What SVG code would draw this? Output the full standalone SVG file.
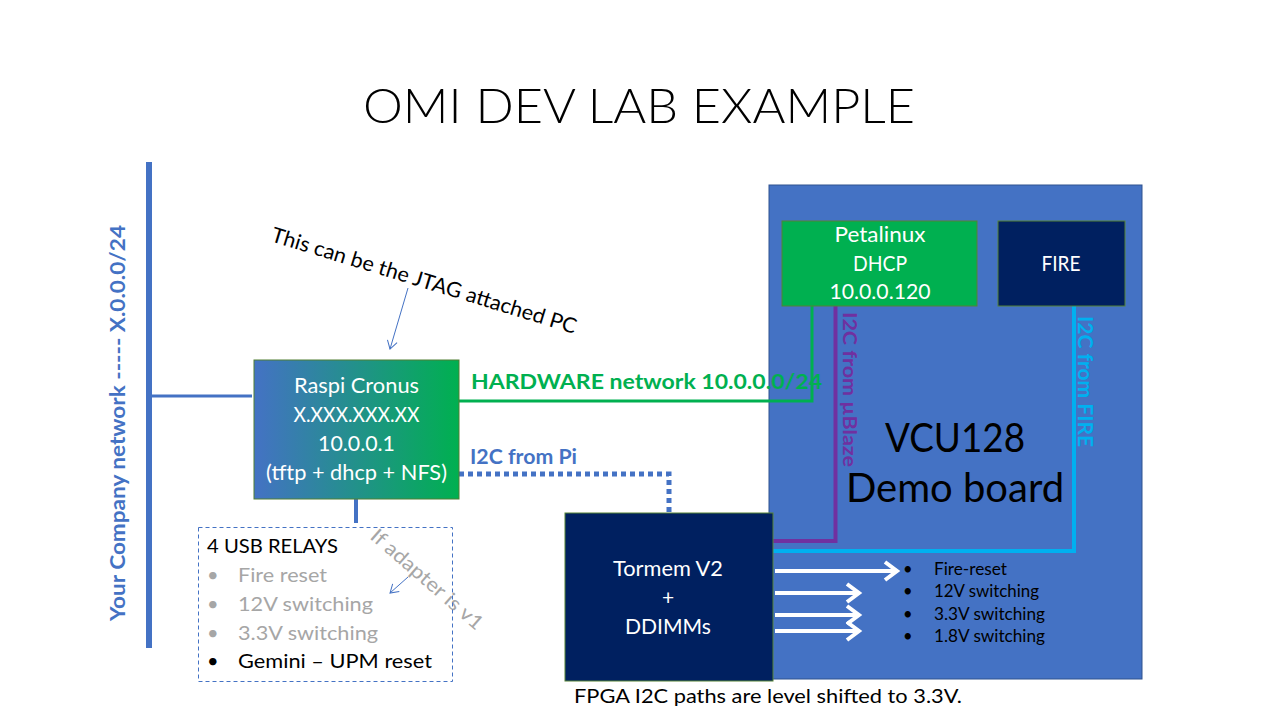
<svg xmlns="http://www.w3.org/2000/svg" width="1280" height="720" viewBox="0 0 1280 720">
<defs>
<linearGradient id="gr" x1="0" y1="0" x2="1" y2="0">
<stop offset="0" stop-color="#4472C4"/>
<stop offset="1" stop-color="#00B050"/>
</linearGradient>
<marker id="thin" markerWidth="12" markerHeight="12" refX="10" refY="6" orient="auto" markerUnits="userSpaceOnUse">
<path d="M2,1 L10,6 L2,11" fill="none" stroke="#4472C4" stroke-width="1"/>
</marker>
<marker id="wh" markerWidth="20" markerHeight="22" refX="16" refY="11" orient="auto" markerUnits="userSpaceOnUse">
<path d="M4,2 L16,11 L4,20" fill="none" stroke="#FFFFFF" stroke-width="4"/>
</marker>
</defs>
<style>
text{font-family:Lato,"Liberation Sans",sans-serif}
.w{fill:#FFFFFF;font-size:21px;text-anchor:middle}
.b{font-weight:bold}
.rel{font-size:20px}
.gray{fill:#A6A6A6}
.sm{font-size:16.5px;fill:#000000}
</style>
<rect width="1280" height="720" fill="#FFFFFF"/>
<text x="363" y="123" font-size="48" fill="#000000" style="font-weight:300" textLength="552" lengthAdjust="spacingAndGlyphs">OMI DEV LAB EXAMPLE</text>

<g id="vcu128">
<rect x="769" y="185" width="373" height="494" fill="#4472C4" stroke="#2F528F" stroke-width="1"/>
<text x="955" y="452" font-size="40" text-anchor="middle" fill="#000000" textLength="140" lengthAdjust="spacingAndGlyphs">VCU128</text>
<text x="955" y="502" font-size="40" text-anchor="middle" fill="#000000">Demo board</text>
</g>

<g id="company-network">
<line x1="149" y1="162" x2="149" y2="648" stroke="#4472C4" stroke-width="6"/>
<text transform="translate(125,621) rotate(-90)" font-size="20.5" fill="#4472C4" class="b" textLength="396" lengthAdjust="spacingAndGlyphs">Your Company network  -----  X.0.0.0/24</text>
</g>

<g id="connectors">
<line x1="152" y1="396" x2="252" y2="396" stroke="#4472C4" stroke-width="3"/>
<polyline points="459,401 812,401 812,306" fill="none" stroke="#00B050" stroke-width="3"/>
<polyline points="459,474 669,474 669,513" fill="none" stroke="#4472C4" stroke-width="5" stroke-dasharray="5,4"/>
<line x1="356" y1="499" x2="356" y2="523" stroke="#4472C4" stroke-width="4"/>
<polyline points="835.5,306 835.5,541 773,541" fill="none" stroke="#7030A0" stroke-width="4"/>
<polyline points="1074,306 1074,551 773,551" fill="none" stroke="#00B0F0" stroke-width="4"/>
<line x1="408" y1="288" x2="390" y2="349" stroke="#4472C4" stroke-width="1" marker-end="url(#thin)"/>
<line x1="408" y1="577" x2="390" y2="593" stroke="#4472C4" stroke-width="1" marker-end="url(#thin)"/>
<line x1="775" y1="571" x2="897" y2="571" stroke="#FFFFFF" stroke-width="4" marker-end="url(#wh)"/>
<line x1="775" y1="593" x2="859" y2="593" stroke="#FFFFFF" stroke-width="4" marker-end="url(#wh)"/>
<line x1="775" y1="615" x2="859" y2="615" stroke="#FFFFFF" stroke-width="4" marker-end="url(#wh)"/>
<line x1="775" y1="631" x2="859" y2="631" stroke="#FFFFFF" stroke-width="4" marker-end="url(#wh)"/>
<text x="471" y="389" font-size="20" fill="#00B050" class="b" textLength="351" lengthAdjust="spacingAndGlyphs">HARDWARE network 10.0.0.0/24</text>
<text x="470" y="464" font-size="20" fill="#4472C4" class="b" textLength="107" lengthAdjust="spacingAndGlyphs">I2C from Pi</text>
<text transform="translate(843,312) rotate(90)" font-size="19" fill="#7030A0" class="b" textLength="155" lengthAdjust="spacingAndGlyphs">I2C from µBlaze</text>
<text transform="translate(1078,316) rotate(90)" font-size="20" fill="#00B0F0" class="b" textLength="131" lengthAdjust="spacingAndGlyphs">I2C from FIRE</text>
<text transform="translate(270,241) rotate(17)" font-size="21" fill="#000000" textLength="318" lengthAdjust="spacingAndGlyphs">This can be the JTAG attached PC</text>
<text transform="translate(369,538) rotate(41)" font-size="20" fill="#A6A6A6" textLength="142" lengthAdjust="spacingAndGlyphs">If adapter is v1</text>
</g>

<g id="raspi">
<rect x="254" y="360" width="205" height="139" fill="url(#gr)" stroke="#507E32" stroke-width="1"/>
<text x="356.5" y="393" class="w" textLength="125" lengthAdjust="spacingAndGlyphs">Raspi Cronus</text>
<text x="356.5" y="422" class="w" textLength="126" lengthAdjust="spacingAndGlyphs">X.XXX.XXX.XX</text>
<text x="356.5" y="451" class="w" textLength="77" lengthAdjust="spacingAndGlyphs">10.0.0.1</text>
<text x="356.5" y="480" class="w" textLength="181" lengthAdjust="spacingAndGlyphs">(tftp + dhcp + NFS)</text>
</g>

<g id="usb-relays">
<rect x="198.5" y="527.5" width="254" height="154" fill="none" stroke="#4472C4" stroke-width="1" stroke-dasharray="4,3"/>
<text x="207" y="553" class="rel" fill="#000000" textLength="131" lengthAdjust="spacingAndGlyphs">4 USB RELAYS</text>
<text x="207" y="582" class="rel gray">•</text><text x="238" y="582" class="rel gray" textLength="89" lengthAdjust="spacingAndGlyphs">Fire reset</text>
<text x="207" y="611" class="rel gray">•</text><text x="238" y="611" class="rel gray" textLength="135" lengthAdjust="spacingAndGlyphs">12V switching</text>
<text x="207" y="640" class="rel gray">•</text><text x="238" y="640" class="rel gray" textLength="140" lengthAdjust="spacingAndGlyphs">3.3V switching</text>
<text x="207" y="668" class="rel" fill="#000000">•</text><text x="238" y="668" class="rel" fill="#000000" textLength="194" lengthAdjust="spacingAndGlyphs">Gemini – UPM reset</text>
</g>

<g id="petalinux">
<rect x="782" y="221" width="195" height="85" fill="#00B050" stroke="#548235" stroke-width="1"/>
<text x="880" y="242" class="w" textLength="91" lengthAdjust="spacingAndGlyphs">Petalinux</text>
<text x="880" y="271" class="w" textLength="54" lengthAdjust="spacingAndGlyphs">DHCP</text>
<text x="880" y="299" class="w" textLength="101" lengthAdjust="spacingAndGlyphs">10.0.0.120</text>
</g>

<g id="fire">
<rect x="998" y="221" width="127" height="85" fill="#002060" stroke="#548235" stroke-width="1"/>
<text x="1061" y="271" class="w" textLength="39" lengthAdjust="spacingAndGlyphs">FIRE</text>
</g>

<g id="tormem">
<rect x="565" y="513" width="208" height="168" fill="#002060" stroke="#548235" stroke-width="1"/>
<text x="668" y="576" class="w" textLength="110" lengthAdjust="spacingAndGlyphs">Tormem V2</text>
<text x="668" y="605" class="w">+</text>
<text x="668" y="634" class="w" textLength="86" lengthAdjust="spacingAndGlyphs">DDIMMs</text>
</g>

<g id="signals">
<text x="903" y="575" class="sm">•</text><text x="934" y="575" class="sm" textLength="73" lengthAdjust="spacingAndGlyphs">Fire-reset</text>
<text x="903" y="597" class="sm">•</text><text x="934" y="597" class="sm" textLength="105" lengthAdjust="spacingAndGlyphs">12V switching</text>
<text x="903" y="620" class="sm">•</text><text x="934" y="620" class="sm" textLength="111" lengthAdjust="spacingAndGlyphs">3.3V switching</text>
<text x="903" y="642" class="sm">•</text><text x="934" y="642" class="sm" textLength="111" lengthAdjust="spacingAndGlyphs">1.8V switching</text>
</g>

<text x="574" y="703" font-size="20" fill="#000000" textLength="388" lengthAdjust="spacingAndGlyphs">FPGA I2C paths are level shifted to 3.3V.</text>
</svg>
